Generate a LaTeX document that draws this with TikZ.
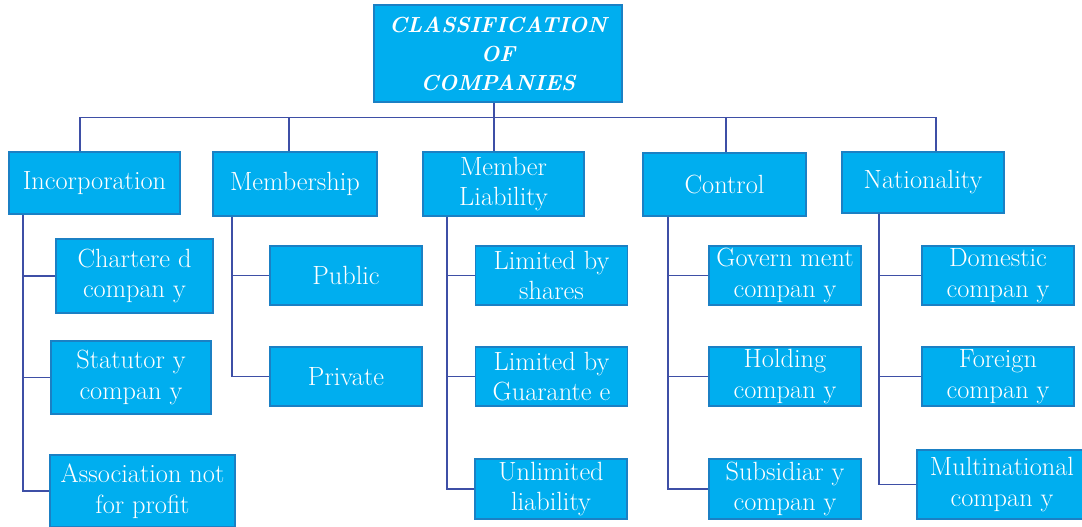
\documentclass[tikz,border=0pt]{standalone}
\usepackage{xcolor}
\definecolor{boxFill}{HTML}{00AEEF}
\definecolor{boxEdge}{HTML}{1B80C4}
\definecolor{linkDark}{HTML}{3E4FA6}
\usepackage{tikz}
\usetikzlibrary{positioning,calc}
\tikzset{%
  titleBox/.style={%
    rectangle,
    draw=boxEdge,
    line width=1.2pt,
    fill=boxFill,
    text=white,
    minimum width=4.96cm,
    minimum height=1.94cm,
    align=center,
    font=\fontsize{12.4}{16.5}\selectfont\bfseries\itshape
  },
  catBox/.style={%
    rectangle,
    draw=boxEdge,
    line width=1pt,
    fill=boxFill,
    text=white,
    inner xsep=1pt,
    inner ysep=1pt,
    minimum width=3.26cm,
    minimum height=1.26cm,
    align=center,
    font=\fontsize{15}{17.5}\selectfont
  },
  typeBox/.style={%
    catBox,
    minimum width=3.04cm,
    minimum height=1.18cm
  },
  linkLine/.style={%
    draw=linkDark,
    line width=1.1pt
  }
}

\begin{document}
\begin{tikzpicture}[x=0.02cm,y=-0.02cm]
  \useasboundingbox (0,0) rectangle (1082,527);

  % top
  \node[titleBox] (title) at (498,53.5) {CLASSIFICATION\\OF\\COMPANIES};

  % categories
  \node[catBox, minimum width=3.42cm, minimum height=1.24cm] (incorp) at (94.5,183) {Incorporation};
  \node[catBox, minimum width=3.28cm, minimum height=1.28cm] (member) at (295,184) {Membership};
  \node[catBox, minimum width=3.22cm, minimum height=1.28cm] (liab) at (503.5,184) {Member\\Liability};
  \node[catBox] (control) at (724.5,184.5) {Control};
  \node[catBox, minimum width=3.24cm, minimum height=1.22cm] (natl) at (923,182.5) {Nationality};

  % incorporation
  \node[typeBox, minimum width=3.14cm, minimum height=1.48cm] (chart) at (134.5,276) {Chartere d\\compan y};
  \node[typeBox, minimum width=3.2cm, minimum height=1.46cm] (statut) at (131,377.5) {Statutor y\\compan y};
  \node[typeBox, minimum width=3.7cm, minimum height=1.44cm] (assoc) at (142.5,491) {Association not\\for profit};

  % membership
  \node[typeBox] (public) at (346,275.5) {Public};
  \node[typeBox] (private) at (346,376.5) {Private};

  % member liability
  \node[typeBox] (shares) at (551.5,275.5) {Limited by\\shares};
  \node[typeBox] (guar) at (551.5,376.5) {Limited by\\Guarante e};
  \node[typeBox, minimum height=1.2cm] (unlim) at (551,489) {Unlimited\\liability};

  % control
  \node[typeBox] (govt) at (785,275.5) {Govern ment\\compan y};
  \node[typeBox] (hold) at (785,376.5) {Holding\\compan y};
  \node[typeBox, minimum height=1.2cm] (subs) at (785,489) {Subsidiar y\\compan y};

  % nationality
  \node[typeBox] (domes) at (998,275.5) {Domestic\\compan y};
  \node[typeBox] (foreign) at (998,376.5) {Foreign\\compan y};
  \node[typeBox, minimum width=3.4cm, minimum height=1.38cm] (multi) at (1002,484.5) {Multinational\\compan y};

  % bus
  \coordinate (t1) at (80,117.5);
  \coordinate (t2) at (289,117.5);
  \coordinate (t3) at (494,117.5);
  \coordinate (t4) at (726,117.5);
  \coordinate (t5) at (936,117.5);
  \draw[linkLine] (t1) -- (t5);
  \draw[linkLine] (title.south -| t3) -- (t3);
  \draw[linkLine] (t1) -- (t1 |- incorp.north);
  \draw[linkLine] (t2) -- (t2 |- member.north);
  \draw[linkLine] (t3) -- (t3 |- liab.north);
  \draw[linkLine] (t4) -- (t4 |- control.north);
  \draw[linkLine] (t5) -- (t5 |- natl.north);

  % trunks
  \coordinate (k1) at (23,0);
  \coordinate (k2) at (232,0);
  \coordinate (k3) at (447,0);
  \coordinate (k4) at (668,0);
  \coordinate (k5) at (879,0);
  \draw[linkLine] (k1 |- incorp.south) |- (assoc.west);
  \draw[linkLine] (k1 |- chart.west) -- (chart.west);
  \draw[linkLine] (k1 |- statut.west) -- (statut.west);
  \draw[linkLine] (k2 |- member.south) |- (private.west);
  \draw[linkLine] (k2 |- public.west) -- (public.west);
  \draw[linkLine] (k3 |- liab.south) |- (unlim.west);
  \draw[linkLine] (k3 |- shares.west) -- (shares.west);
  \draw[linkLine] (k3 |- guar.west) -- (guar.west);
  \draw[linkLine] (k4 |- control.south) |- (subs.west);
  \draw[linkLine] (k4 |- govt.west) -- (govt.west);
  \draw[linkLine] (k4 |- hold.west) -- (hold.west);
  \draw[linkLine] (k5 |- natl.south) |- (multi.west);
  \draw[linkLine] (k5 |- domes.west) -- (domes.west);
  \draw[linkLine] (k5 |- foreign.west) -- (foreign.west);
\end{tikzpicture}
\end{document}
